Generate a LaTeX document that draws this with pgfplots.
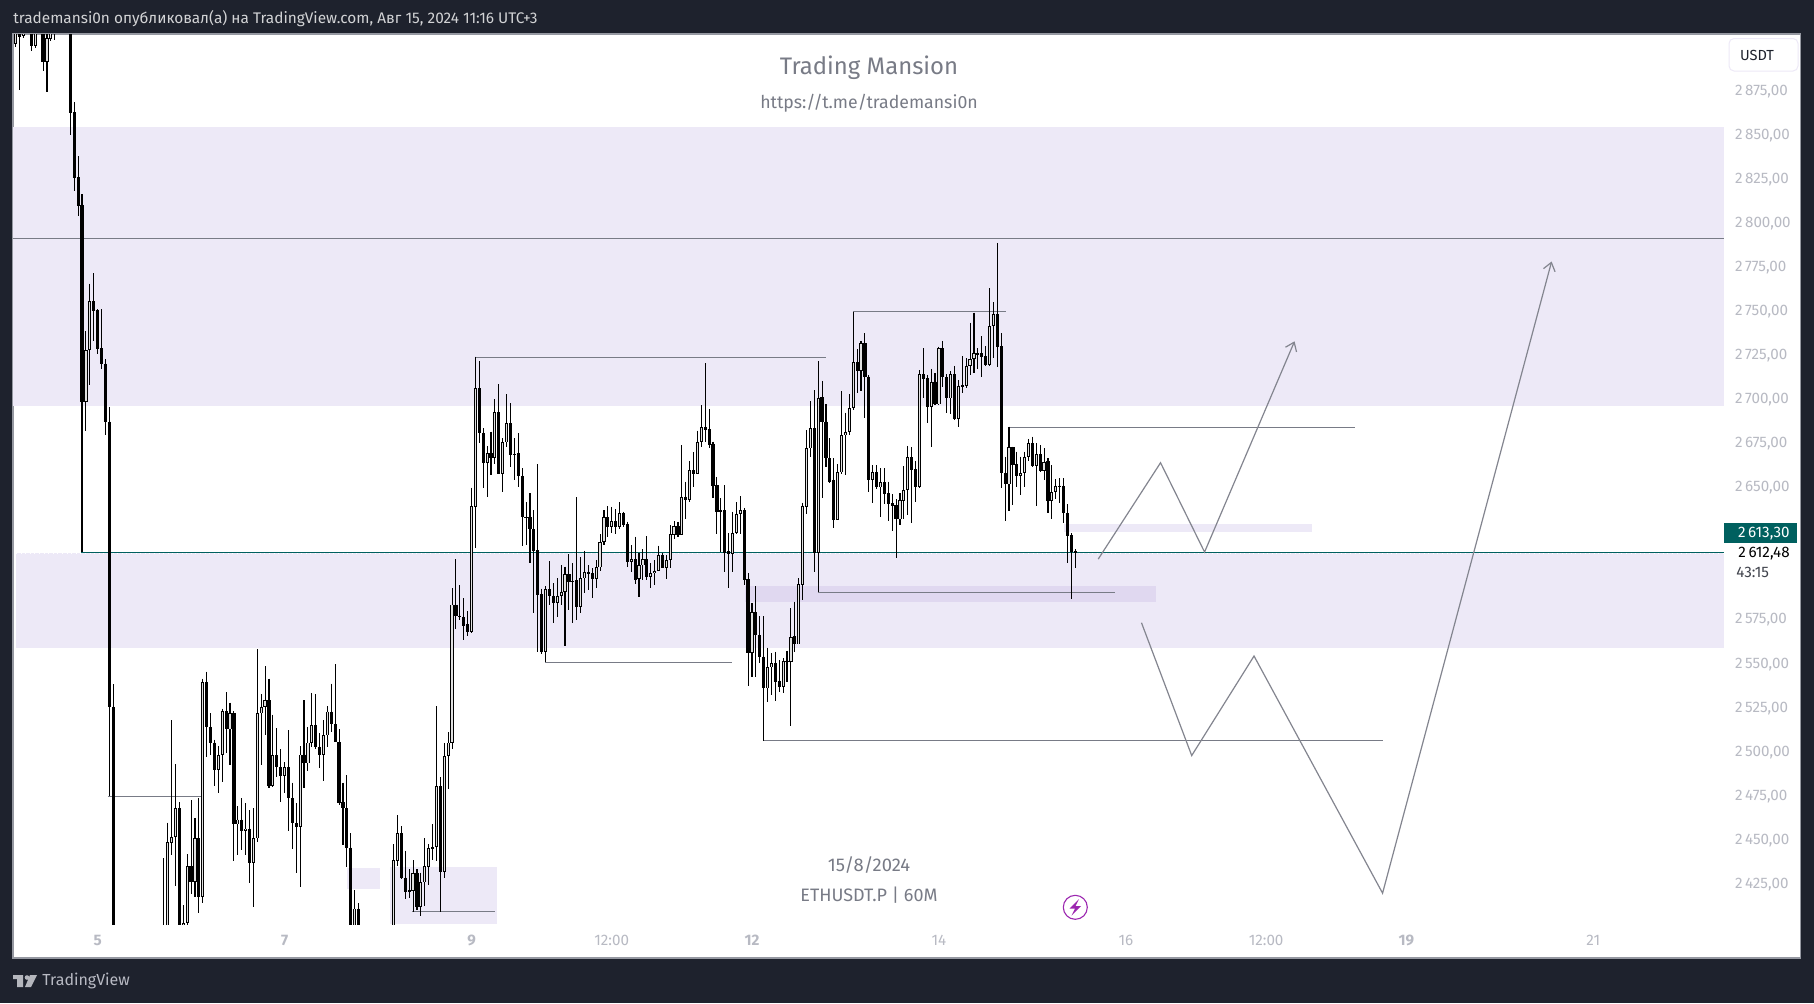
\documentclass[border=0pt]{standalone}
\usepackage{fontspec}
\setmainfont{Fira Sans}
\usepackage{pgfplots}
\usepackage{pgfplotstable}
\pgfplotsset{compat=1.18}
\usetikzlibrary{arrows.meta}
\definecolor{tvdark}{HTML}{1E222D}
\definecolor{tvframe}{HTML}{9598A1}
\definecolor{tvband}{HTML}{EDE9F7}
\definecolor{tvbandd}{HTML}{E0D8F0}
\definecolor{tvline}{HTML}{787B86}
\definecolor{tvpath}{HTML}{83858F}
\definecolor{tvteal}{HTML}{00605F}
\definecolor{tvtick}{HTML}{B8BAC3}
\definecolor{tvpurple}{HTML}{9C27B0}
\pgfplotstableread{
t o hi lo c
-21 2901.4 2912 2899.6 2910
-20 2910 2912 2875 2905
-19 2905.6 2912 2904.4 2908
-17 2915 2918 2897 2900
-16 2900 2918 2898.6 2915
-14 2915 2918 2886 2891
-13 2891 2910 2874 2904.3
-12 2904 2915 2903 2912
-11 2912 2920 2903.4 2916
-7 2915 2920 2849.4 2862
-6 2862.3 2868 2817.8 2825.2
-5 2825.4 2837.5 2803.5 2809.3
-4 2809.5 2815.8 2612.8 2698.1
-3 2698 2738.2 2681.6 2727.4
-2 2727.4 2765.2 2707.5 2755
-1 2755 2770.9 2732.7 2749.7
0 2750.1 2750.5 2725.1 2728
1 2728.4 2750.5 2716.6 2719.5
2 2719.8 2722.1 2679.2 2686.8
3 2686.8 2694.9 2474.2 2525
4 2525 2537.7 2395 2400
17 2395 2438.9 2390 2400
18 2398 2459.2 2395 2448
19 2447.8 2517.4 2440.8 2451.2
20 2451.2 2492.3 2423.2 2467.3
21 2467.3 2470.7 2395 2400
22 2401 2412.4 2398 2402.4
23 2402.4 2441.2 2401 2434.6
24 2434.6 2472 2419 2425.7
25 2425.7 2461.6 2417 2450.3
26 2450.3 2473 2408 2417.1
27 2417.1 2541 2413.7 2538.8
28 2538.8 2544.9 2496.6 2513.6
29 2513.6 2521.2 2497.6 2504.7
30 2504.7 2506.4 2480.2 2489
31 2489 2502.7 2476.2 2497.6
32 2497.6 2524 2482.4 2522.5
33 2522.5 2533.1 2498.9 2512.1
34 2512.1 2527.4 2491.9 2521.2
35 2521.2 2522.5 2437.6 2458.2
36 2458.2 2468.6 2440.8 2461
37 2461 2473 2443.6 2454.6
38 2454.6 2470.1 2440.8 2455.9
39 2455.9 2466.3 2424.7 2436.4
40 2436.4 2467.3 2411.5 2450.3
41 2450.3 2557.7 2448.4 2521.2
42 2521.2 2532.2 2491.9 2525
43 2525 2548.1 2508.9 2528.6
44 2528.6 2541 2479 2480
45 2480 2520.6 2479.6 2497.4
46 2497.4 2512.7 2484.9 2490.6
47 2490.6 2500.8 2471.1 2485.8
48 2485.8 2493.4 2475.8 2490.6
49 2490.6 2511.7 2454.4 2473.3
50 2473.3 2482 2444.2 2458.8
51 2458.8 2470.5 2430.4 2456.9
52 2456.9 2502.7 2422.8 2497.9
53 2497.9 2528.8 2479 2492.8
54 2492.8 2513.6 2488.7 2504.7
55 2504.7 2532.9 2502.3 2514.4
56 2514.4 2532 2500.8 2502.3
57 2502.3 2509.9 2490.4 2497.9
58 2497.9 2517.4 2483 2508.7
59 2508.7 2525.4 2502.3 2522.3
60 2522.3 2538.2 2510.8 2515
61 2515 2549.2 2505.1 2505.1
62 2505.1 2512.1 2469.2 2470.1
63 2470.7 2482 2446.5 2467.3
64 2467.3 2486.2 2434.2 2445
65 2445 2453.1 2395 2400
66 2400 2420.9 2395 2410.5
67 2410.5 2413.4 2395 2400
76 2400 2446.9 2395 2438
77 2437.6 2463.5 2434.7 2453.1
78 2453.1 2457.3 2427.2 2427.6
79 2428.1 2443.3 2415.8 2420
80 2420.9 2432.7 2416.2 2419.8
81 2420.5 2438 2408.6 2430.4
82 2430.4 2432.9 2409.6 2411.5
83 2411.5 2430.8 2406.4 2425.3
84 2425.3 2450.3 2411.9 2434.6
85 2434.2 2447 2423.8 2444.6
86 2445.2 2458.4 2438 2445.2
87 2445.2 2525.4 2437.6 2480
88 2480 2484.9 2408.6 2431.3
89 2431.3 2504.2 2428.1 2497
90 2497 2510.4 2478.4 2504.7
91 2504.7 2592.2 2501 2583
92 2583 2608.6 2569.1 2576.7
93 2576.7 2594 2574.2 2576.7
94 2576 2586.5 2562.8 2571
95 2571.7 2579.3 2565.3 2567.6
96 2567.6 2649.3 2567 2638.9
97 2638.5 2723.7 2614.9 2705.7
98 2705.7 2721.2 2674.9 2680.5
99 2680.5 2683 2649.3 2663.5
100 2663.5 2673 2644.2 2668.8
101 2668.8 2681.1 2656.5 2666.3
102 2666.3 2699.4 2662.7 2692.1
103 2692.1 2708 2657.3 2657.3
104 2657.3 2677.3 2647 2675
105 2675 2702.3 2672.6 2685.8
106 2685.8 2697.2 2661.2 2667.8
107 2668.4 2677.3 2653.7 2668
108 2668.8 2680.1 2649.9 2656.1
109 2656.1 2660.3 2616.2 2632.8
110 2632.8 2641 2616.8 2632.5
111 2632.5 2646.1 2606.7 2625.7
112 2625.7 2636.6 2578 2613.6
113 2613.9 2662.5 2556.2 2588.4
114 2588.8 2592 2555 2556.2
115 2556.2 2593.5 2550.2 2591.6
116 2591.6 2607.7 2582.7 2588
117 2588 2595 2572.7 2584
118 2584 2597.8 2576 2588
119 2588 2605.4 2582.7 2590.3
120 2590.3 2604.5 2559.6 2600.1
121 2600.1 2611.7 2579.9 2595.6
122 2595.6 2606.4 2572.3 2596.5
123 2596.9 2643.8 2574.2 2581.8
124 2581.8 2610.1 2578.4 2597.8
125 2597.8 2613.6 2589.3 2601.6
126 2601.6 2605.4 2591.2 2600.5
127 2600.7 2603.5 2586.5 2597.3
128 2597.3 2608.2 2592.2 2604.1
129 2604.1 2623 2602.2 2618.3
130 2618.3 2636.6 2616.8 2632.5
131 2632.5 2638.9 2621.1 2627.2
132 2627.2 2638.5 2623.4 2630.2
133 2630.2 2637.2 2623 2627.2
134 2627.2 2641 2625.7 2634.7
135 2634.7 2635.7 2627.2 2628.3
136 2628.7 2630 2604.1 2607.3
137 2607.3 2616.8 2601.2 2608.6
138 2608.6 2621.5 2594.6 2596.9
139 2597.6 2612 2587.4 2605.2
140 2605.2 2614.5 2596.9 2608.6
141 2608.6 2621.9 2596.9 2598.8
142 2598.8 2606.4 2592.6 2600.7
143 2600.7 2608.2 2594 2602.2
144 2602.2 2616.4 2602.2 2611.1
145 2611.1 2612 2603.5 2603.9
146 2603.9 2611 2597.5 2608.2
147 2608.2 2628.1 2603.9 2623
148 2622.6 2630.4 2620 2627.5
149 2627.5 2630 2621.1 2622.6
150 2622.6 2673.5 2622.6 2644.2
151 2644.2 2652.7 2631.5 2642.3
152 2642.3 2664.6 2641.4 2659.3
153 2659.3 2669.7 2649.5 2657.3
154 2657.3 2681.7 2657.4 2675.4
155 2675.4 2696.2 2672.6 2683.6
156 2683.6 2719.9 2675.4 2682
157 2682.4 2693.8 2671.6 2673.5
158 2674 2675.4 2643.3 2650.4
159 2650.8 2655.5 2623 2635.7
160 2636.6 2643.3 2613 2635.7
161 2636.6 2650.8 2601.6 2612.4
162 2613.2 2623.4 2592.2 2611.5
163 2611.5 2635.7 2601.6 2623.4
164 2623.4 2641 2623 2634.2
165 2634.2 2644.6 2623 2636.4
166 2636.4 2637.9 2594 2596.9
167 2597.3 2601 2536.9 2555.3
168 2555.3 2583.7 2542 2578.5
169 2578.5 2593.5 2542 2565.7
170 2565.7 2576.5 2549.9 2553.4
171 2553.4 2576.5 2505.6 2535.4
172 2535.4 2558.5 2527.5 2547.3
173 2547.3 2555.3 2531.6 2549.6
174 2549.6 2556.2 2528.4 2539.2
175 2539.8 2551.5 2533.1 2536.4
176 2536.4 2552.4 2532.6 2551.1
177 2551.1 2556.8 2539.2 2550.2
178 2550.2 2580.8 2514.2 2564.7
179 2565.1 2584.6 2556.2 2560.4
180 2560.4 2597.8 2585.5 2594.4
181 2594 2640.8 2585.5 2639.1
182 2638.5 2682 2634.4 2671.6
183 2671.6 2698.5 2666.9 2683
184 2683 2704.7 2601.6 2612.4
185 2612.4 2721.2 2589.9 2700.4
186 2700.6 2709.9 2643.3 2686.8
187 2686.8 2696.6 2660.9 2666
188 2666 2677.3 2652.2 2652.7
189 2653.7 2666 2626.2 2631
190 2631 2662.6 2631 2658
191 2658 2704.2 2656.9 2679
192 2679 2691.9 2656.5 2681.1
193 2681.1 2702.3 2679.2 2694.4
194 2694.4 2749.2 2693.4 2720.5
195 2720.5 2727.8 2703.2 2715.7
196 2715.7 2732.6 2704.4 2731.3
197 2731.3 2736.9 2689.1 2712.3
198 2712.3 2713.3 2647 2653.7
199 2653.7 2662.2 2640.8 2658
200 2658 2662.2 2648.6 2649.5
201 2649.5 2660.3 2632.9 2652.4
202 2652.4 2660.3 2640 2645.7
203 2646.1 2652.7 2630.6 2640
204 2640.4 2645.7 2624.9 2639.1
205 2639.5 2642.9 2609.6 2631.3
206 2631.3 2646.1 2628.1 2642.3
207 2642 2661.6 2631.3 2648
208 2648 2673 2633.8 2666.5
209 2666.5 2672.2 2629.5 2659.4
210 2659.7 2664.6 2641.4 2649.9
211 2649.9 2716.1 2649 2713.7
212 2713.7 2728.4 2700 2711.2
213 2711.4 2713.3 2685.8 2695.3
214 2695.3 2716.7 2672.6 2709.5
215 2709.5 2714.2 2696.2 2696.6
216 2696.6 2729.4 2696.2 2728.4
217 2728.4 2732.6 2706.3 2712
218 2712 2713.7 2691.5 2700
219 2700 2715.5 2691 2713.7
220 2713.7 2718.4 2687.7 2688.3
221 2688.3 2710.4 2684 2707.2
222 2707.4 2724 2703.2 2707.4
223 2707 2722.7 2705.7 2718.6
224 2718.6 2743 2713.3 2722.2
225 2722.2 2748.7 2714.2 2725.6
226 2725.6 2728.4 2716.5 2725.6
227 2725.6 2735.4 2712.3 2723.7
228 2724 2729.7 2718.4 2719
229 2719 2762.5 2718.4 2741.1
230 2741 2754.5 2722.7 2747.9
231 2747.9 2788.2 2718 2729.4
232 2729.7 2736.9 2649.3 2657.5
233 2657.5 2667 2630.6 2651.2
234 2651.2 2684 2636.3 2672.2
235 2672.2 2672.6 2639.5 2662.2
236 2662.8 2669.8 2649.9 2656.1
237 2656.1 2667 2645.2 2657.5
238 2657.5 2669.8 2649.9 2666.9
239 2666.9 2677 2664.5 2674.5
240 2674.5 2678.3 2661.2 2661.6
241 2661.6 2674.5 2638.9 2668.4
242 2668.4 2673.5 2658.4 2658.8
243 2658.8 2671.7 2653.7 2664.1
244 2664.5 2666 2635.1 2641.9
245 2641.9 2662.2 2631.5 2646.7
246 2646.7 2654 2642.7 2650.5
247 2650.5 2654.6 2640.4 2650.5
248 2650.3 2654.6 2629.5 2634.8
249 2634.8 2640 2606.4 2622.1
250 2622.5 2623.4 2586 2612.6
251 2613.3 2614.3 2603.9 2612.48
}\candles
\begin{document}
\begin{tikzpicture}
\begin{scope}[x=0.5pt,y=-0.5pt]
\fill[tvdark] (0,0) rectangle (1814,1003);
\fill[white] (13,34) rectangle (1800.5,958);
\draw[tvframe,line width=0.55pt] (13,34) rectangle (1800.5,958);
\end{scope}
\begin{axis}[
  at={(6.5pt,-462pt)},anchor=south west,
  scale only axis,width=855.5pt,height=445pt,
  xmin=-21.72,xmax=417.56,ymin=2401.7,ymax=2906.8,
  axis line style={draw=none},
  tick style={draw=none},
  major tick length=0pt,
  xtick={0,48,96,132,168,216,264,300,336,384},
  xticklabels={\bfseries 5,\bfseries 7,\bfseries 9,12:00,\bfseries 12,14,16,12:00,\bfseries 19,21},
  ytick={2425,2450,2475,2500,2525,2550,2575,2650,2675,2700,2725,2750,2775,2800,2825,2850,2875},
  yticklabel pos=right,
  tick label style={font=\fontsize{7.6}{9}\selectfont,text=tvtick},
  xticklabel style={yshift=-2pt},
  yticklabel style={xshift=2pt,yshift=-0.7pt,/pgf/number format/.cd,fixed,fixed zerofill,precision=2,use comma,1000 sep={\,},assume math mode=true},
  clip=true,
]
% zones
\addplot[fill=tvband,draw=none] coordinates {(-21.72,2854.2)(417.56,2854.2)(417.56,2695.6)(-21.72,2695.6)} -- cycle;
\addplot[fill=tvband,draw=none] coordinates {(-20.95,2612)(417.56,2612)(417.56,2558.5)(-20.95,2558.5)} -- cycle;
\addplot[fill=tvband,draw=none] coordinates {(64,2433.4)(72.5,2433.4)(72.5,2421.5)(64,2421.5)} -- cycle;
\addplot[fill=tvband,draw=none] coordinates {(75.1,2434)(102.5,2434)(102.5,2401.7)(75.1,2401.7)} -- cycle;
\addplot[fill=tvbandd,draw=none] coordinates {(166.2,2593.5)(271.7,2593.5)(271.7,2584.6)(166.2,2584.6)} -- cycle;
\addplot[fill=tvband,draw=none] coordinates {(248.1,2628.7)(311.8,2628.7)(311.8,2624.3)(248.1,2624.3)} -- cycle;
% level lines
\addplot[tvline,line width=0.55pt] coordinates {(-21.72,2790.7)(417.56,2790.7)};
\addplot[tvline,line width=0.55pt] coordinates {(2.75,2474.2)(26.7,2474.2)};
\addplot[tvline,line width=0.55pt] coordinates {(80.7,2408.7)(102,2408.7)};
\addplot[tvline,line width=0.55pt] coordinates {(97,2723.3)(187,2723.3)};
\addplot[tvline,line width=0.55pt] coordinates {(114.9,2550.2)(163,2550.2)};
\addplot[tvline,line width=0.55pt] coordinates {(194,2749.4)(233.2,2749.4)};
\addplot[tvline,line width=0.55pt] coordinates {(184.9,2590)(261.2,2590)};
\addplot[tvline,line width=0.55pt] coordinates {(234,2683.7)(322.8,2683.7)};
\addplot[tvline,line width=0.55pt] coordinates {(171,2505.8)(329.9,2505.8)};
% last price
\addplot[white,dotted,line width=0.3pt] coordinates {(-20.95,2611.9)(417.56,2611.9)};
\addplot[tvteal,line width=0.55pt] coordinates {(-4.3,2612.7)(417.56,2612.7)};
% wicks
\addplot[draw=none,mark=none,error bars/.cd,y dir=minus,y explicit,error mark=none,
  error bar style={draw=black,line width=0.55pt}]
  table[x=t,y=hi,y error minus expr=\thisrow{hi}-\thisrow{lo}] {\candles};
% bodies
\addplot[draw=none,mark=none,error bars/.cd,y dir=minus,y explicit,error mark=none,
  error bar style={draw=black,line width=1.6pt}]
  table[x=t,y expr={max(\thisrow{o},\thisrow{c})},y error minus expr={max(abs(\thisrow{o}-\thisrow{c}),0.7)}] {\candles};
% interior of rising candles
\addplot[draw=none,mark=none,error bars/.cd,y dir=minus,y explicit,error mark=none,
  error bar style={draw=white!88!black,line width=0.6pt}]
  table[x=t,y expr={\thisrow{c}-0.5},y error minus expr={max(\thisrow{c}-\thisrow{o}-1,0)}] {\candles};
% projected paths
\addplot[tvpath,line width=0.6pt,-{Straight Barb[length=4pt,width=6pt]}] coordinates {(256.9,2608.8)(272.9,2663.5)(284.2,2612.8)(307.3,2732.4)};
\addplot[tvpath,line width=0.6pt,-{Straight Barb[length=4pt,width=6pt]}] coordinates {(268,2572.7)(280.9,2497.3)(296.9,2553.8)(329.9,2419.2)(373.3,2777.7)};
\end{axis}
\begin{scope}[x=0.5pt,y=-0.5pt]
\node[anchor=west,text=white!80!tvdark,font=\fontsize{7.69}{9}\selectfont,inner sep=0] at (13,19) {trademansi0n опубликовал(а) на TradingView.com, Авг 15, 2024 11:16 UTC+3};
\node[text=tvline,font=\fontsize{11.95}{15}\selectfont,inner sep=0] at (869,68) {Trading Mansion};
\node[text=tvline,font=\fontsize{8.86}{10}\selectfont,inner sep=0] at (869,103.5) {https://t.me/trademansi0n};
\node[text=tvline,font=\fontsize{9.2}{10}\selectfont,inner sep=0] at (869,865) {15/8/2024};
\node[text=tvline,font=\fontsize{9}{10}\selectfont,inner sep=0] at (869,895) {ETHUSDT.P | 60M};
% price scale
\draw[rounded corners=2.5pt,draw=tvband,line width=0.5pt,fill=white] (1729,38.5) rectangle (1798,71);
\node[text=tvdark,font=\fontsize{7.3}{9}\selectfont,inner sep=0] at (1757,55) {USDT};
\fill[tvteal] (1724,523.3) rectangle (1797,543.3);
\node[anchor=east,text=white,font=\fontsize{7.6}{9}\selectfont,inner sep=0] at (1790,533.3) {2\,613,30};
\node[anchor=east,text=black,font=\fontsize{7.6}{9}\selectfont,inner sep=0] at (1790,554) {2\,612,48};
\node[anchor=west,text=tvdark!85!white,font=\fontsize{7.6}{9}\selectfont,inner sep=0] at (1736,572) {43:15};
% lightning icon
\draw[tvpurple,line width=0.55pt] (1075.3,907.3) circle[radius=12];
\fill[tvpurple] (1079,899) -- (1069.5,908.5) -- (1075,908.5) -- (1071.5,915.5) -- (1081,906) -- (1075.5,906) -- cycle;
% footer
\fill[tvframe!70!white] (13,975) rectangle (23,979) (17,975) rectangle (23,987);
\fill[tvframe!70!white] (27,977.5) circle[radius=2.3];
\fill[tvframe!70!white] (30,975) -- (37,975) -- (31,987) -- (25,987) -- cycle;
\node[anchor=west,text=tvtick,font=\fontsize{8}{10}\selectfont,inner sep=0] at (42,981) {TradingView};
\end{scope}
\end{tikzpicture}
\end{document}
